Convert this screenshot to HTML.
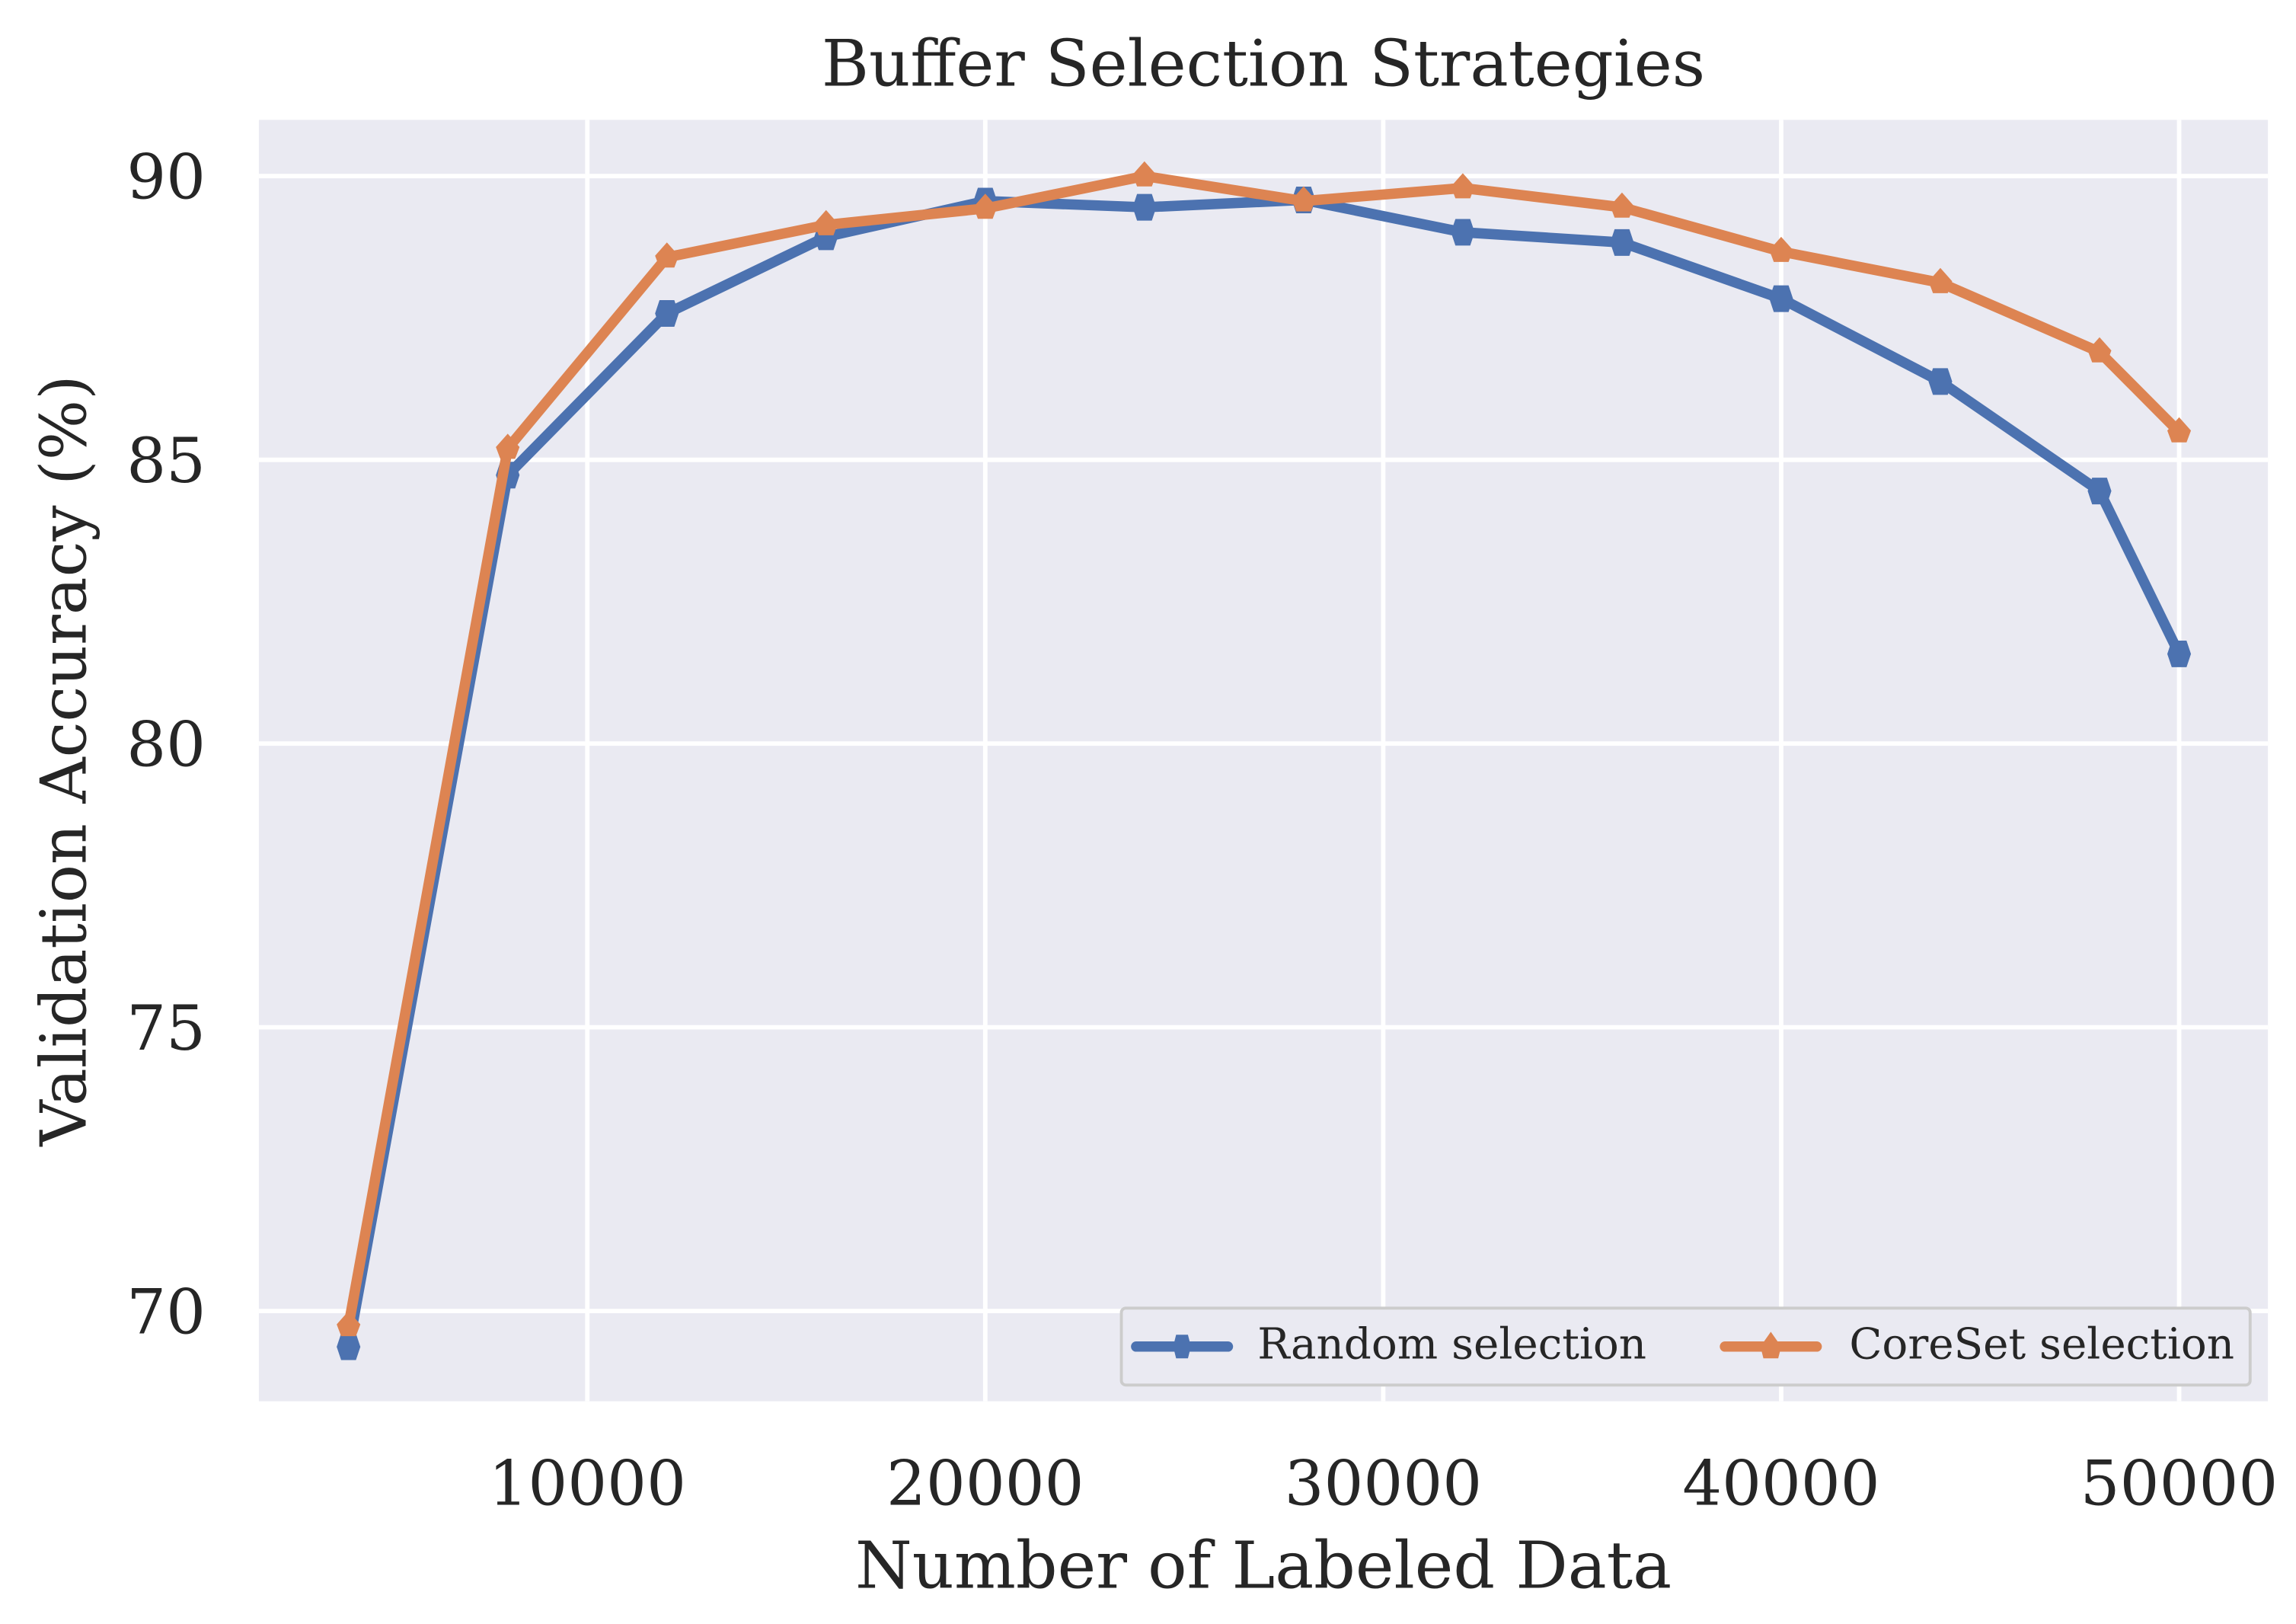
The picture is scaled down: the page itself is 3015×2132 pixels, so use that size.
<!DOCTYPE html>
<html><head><meta charset="utf-8"><style>html,body{margin:0;padding:0;background:#fff}svg{display:block}</style></head>
<body>
<svg id="chart" width="3015" height="2132" viewBox="0 0 1552 1097.5" preserveAspectRatio="none" xmlns="http://www.w3.org/2000/svg" font-family="'DejaVu Serif','Liberation Serif',serif" fill="#262626">
<rect x="175" y="81" width="1358" height="866" fill="#eaeaf2"/>
<g id="grid"></g>
<g id="series"></g>
<text x="854" y="58" font-size="43.5" text-anchor="middle">Buffer Selection Strategies</text>
<text x="854" y="1073" font-size="44" text-anchor="middle">Number of Labeled Data</text>
<text transform="translate(58,514) rotate(-90)" font-size="43" text-anchor="middle">Validation Accuracy (%)</text>
<g>
<rect x="758" y="884" width="763" height="52" rx="3" fill="#eaeaf2" stroke="#cccccc" stroke-width="2"/>
<line x1="768" y1="910" x2="830" y2="910" stroke="#4c72b0" stroke-width="7" stroke-linecap="round"/>
<path d="M795,902 h8 l2,8 -2,8 h-8 l-2,-8z" fill="#4c72b0"/>
<text x="850" y="918" font-size="29">Random selection</text>
<line x1="1166" y1="910" x2="1228" y2="910" stroke="#dd8452" stroke-width="7" stroke-linecap="round"/>
<path d="M1197,900 l7,10 -2,8 h-10 l-2,-8z" fill="#dd8452"/>
<text x="1250" y="918" font-size="29">CoreSet selection</text>
</g>
</svg>
<script>
const xValues = [4000,8000,12000,16000,20000,24000,28000,32000,36000,40000,44000,48000,50000];
const randomAcc = [69.37,84.73,87.58,88.93,89.56,89.45,89.58,89.01,88.83,87.84,86.38,84.45,81.58];
const coresetAcc = [69.74,85.20,88.57,89.14,89.43,90.0,89.56,89.79,89.45,88.67,88.12,86.90,85.49];
const xTicks = [10000,20000,30000,40000,50000];
const yTicks = [70,75,80,85,90];
const NS='http://www.w3.org/2000/svg';
function sx(v){return 397+(v-10000)*269/10000;}
function sy(v){return 119+(90-v)*38.35;}
const grid=document.getElementById('grid');
xTicks.forEach(t=>{
  const l=document.createElementNS(NS,'line');
  
  
  l.setAttribute('x1',sx(t));l.setAttribute('x2',sx(t));l.setAttribute('y1',81);l.setAttribute('y2',947);
  l.setAttribute('stroke','#fff');l.setAttribute('stroke-width','3');grid.appendChild(l);
  const tx=document.createElementNS(NS,'text');
  
  
  tx.setAttribute('x',sx(t));tx.setAttribute('y',1017);tx.setAttribute('font-size','42');tx.setAttribute('text-anchor','middle');
  tx.textContent=t;grid.appendChild(tx);
});
yTicks.forEach(t=>{
  const l=document.createElementNS(NS,'line');
  
  
  l.setAttribute('x1',175);l.setAttribute('x2',1533);l.setAttribute('y1',sy(t));l.setAttribute('y2',sy(t));
  l.setAttribute('stroke','#fff');l.setAttribute('stroke-width','3');grid.appendChild(l);
  const tx=document.createElementNS(NS,'text');
  
  
  tx.setAttribute('x',139);tx.setAttribute('y',sy(t)+15);tx.setAttribute('font-size','42');tx.setAttribute('text-anchor','end');
  tx.textContent=t;grid.appendChild(tx);
});
const sg=document.getElementById('series');
function draw(vals,color,name,marker){
  const p=document.createElementNS(NS,'polyline');
  
  
  p.setAttribute('points',vals.map((v,i)=>sx(xValues[i])+','+sy(v)).join(' '));
  p.setAttribute('fill','none');p.setAttribute('stroke',color);p.setAttribute('stroke-width','7');p.setAttribute('stroke-linejoin','round');
  sg.appendChild(p);
  vals.forEach((v,i)=>{
    const m=document.createElementNS(NS,'path');
    
    
    const x=sx(xValues[i]),y=sy(v);
    const d=marker==='hex'?`M${x-5},${y-9} h10 l3,9 -3,9 h-10 l-3,-9z`:`M${x},${y-10} l8,9 -3,8 h-10 l-3,-8z`;
    m.setAttribute('d',d);m.setAttribute('fill',color);sg.appendChild(m);
  });
}
draw(randomAcc,'#4c72b0','random','hex');
draw(coresetAcc,'#dd8452','coreset','pent');
</script>
</body></html>
